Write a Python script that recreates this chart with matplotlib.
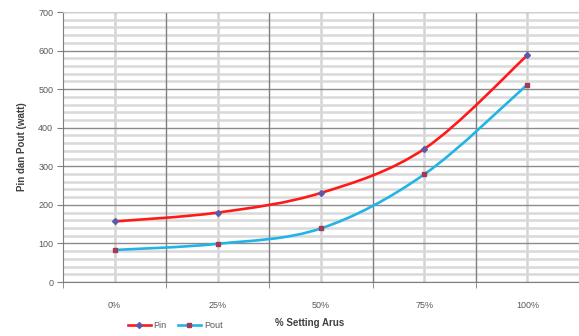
import numpy as np
import matplotlib.pyplot as plt
from matplotlib.path import Path
from matplotlib.patches import PathPatch
from matplotlib.lines import Line2D
from matplotlib.ticker import MultipleLocator, FixedLocator

categories = ['0%', '25%', '50%', '75%', '100%']
pin = [157, 180, 231, 345, 588]
pout = [83, 99, 139, 279, 512]


def smooth_path(x, y):
    # excel-like smoothed line: bezier with catmull-rom control points
    pts = np.column_stack([x, y]).astype(float)
    n = len(pts)
    verts = [pts[0]]
    codes = [Path.MOVETO]
    for i in range(n - 1):
        p0 = pts[max(i - 1, 0)]
        p1 = pts[i]
        p2 = pts[i + 1]
        p3 = pts[min(i + 2, n - 1)]
        c1 = p1 + (p2 - p0) / 6
        c2 = p2 - (p3 - p1) / 6
        verts += [c1, c2, p2]
        codes += [Path.CURVE4] * 3
    return Path(verts, codes)


plt.rcParams['font.family'] = ['Liberation Sans', 'DejaVu Sans']

fig = plt.figure(figsize=(5.79, 3.36), dpi=100)
ax = fig.add_axes([63/579, 54/336, 516/579, 270/336])

x = np.arange(len(categories))

ax.set_xlim(-0.5, len(categories) - 0.5)
ax.set_ylim(0, 700)

# grid
ax.yaxis.set_major_locator(MultipleLocator(100))
ax.yaxis.set_minor_locator(MultipleLocator(20))
ax.grid(which='minor', axis='y', color='#d9d9d9', lw=1.8)
ax.grid(which='major', axis='y', color='#8c8c8c', lw=1.0)
for xi in x:
    ax.axvline(xi, color='#d4d4d4', lw=1.8, zorder=0.5)
for xb in np.arange(0.5, len(categories) - 0.5, 1):
    ax.axvline(xb, color='#7f7f7f', lw=1.0, zorder=0.6)
ax.set_axisbelow(True)

ax.add_patch(PathPatch(smooth_path(x, pin), fill=False, ec='#ff1a1a', lw=1.9, zorder=3))
ax.add_patch(PathPatch(smooth_path(x, pout), fill=False, ec='#22b4e6', lw=1.9, zorder=3))
ax.plot(x, pin, ls='none', marker='D', ms=3.0, color='#5a5aa8', zorder=4)
ax.plot(x, pout, ls='none', marker='s', ms=2.8, color='#a03a55', zorder=4)

ax.xaxis.set_major_locator(FixedLocator(x))
ax.set_xticklabels(categories)
ax.xaxis.set_minor_locator(FixedLocator(np.arange(-0.5, len(categories), 1)))
ax.tick_params(axis='x', which='major', length=0, pad=14, labelsize=6.5, labelcolor='#595959')
ax.tick_params(axis='x', which='minor', length=4, color='#7f7f7f', direction='out')
ax.tick_params(axis='y', which='major', length=4, color='#7f7f7f', labelsize=6.5,
               labelcolor='#595959', pad=3)
ax.tick_params(axis='y', which='minor', length=0)

for s in ['top', 'right']:
    ax.spines[s].set_color('#d0d0d0')
ax.spines['left'].set_color('#7f7f7f')
ax.spines['bottom'].set_color('#7f7f7f')

ax.set_ylabel('Pin dan Pout (watt)', fontsize=7, fontweight='bold', color='#404040', labelpad=8)
fig.text(310/579, 1 - 323/336, '% Setting Arus', fontsize=7, fontweight='bold',
         color='#404040', ha='center', va='center')

handles = [
    Line2D([], [], color='#ff1a1a', lw=1.9, marker='D', ms=3.0, mfc='#5a5aa8', mec='#5a5aa8'),
    Line2D([], [], color='#22b4e6', lw=1.9, marker='s', ms=2.8, mfc='#a03a55', mec='#a03a55'),
]
fig.legend(handles, ['Pin', 'Pout'], loc='center', bbox_to_anchor=(175/579, 1 - 326/336),
           ncol=2, frameon=False, fontsize=6.5, handlelength=2.6, handletextpad=0.3,
           columnspacing=1.2, labelcolor='#595959')

fig.savefig('out.png', dpi=100)
